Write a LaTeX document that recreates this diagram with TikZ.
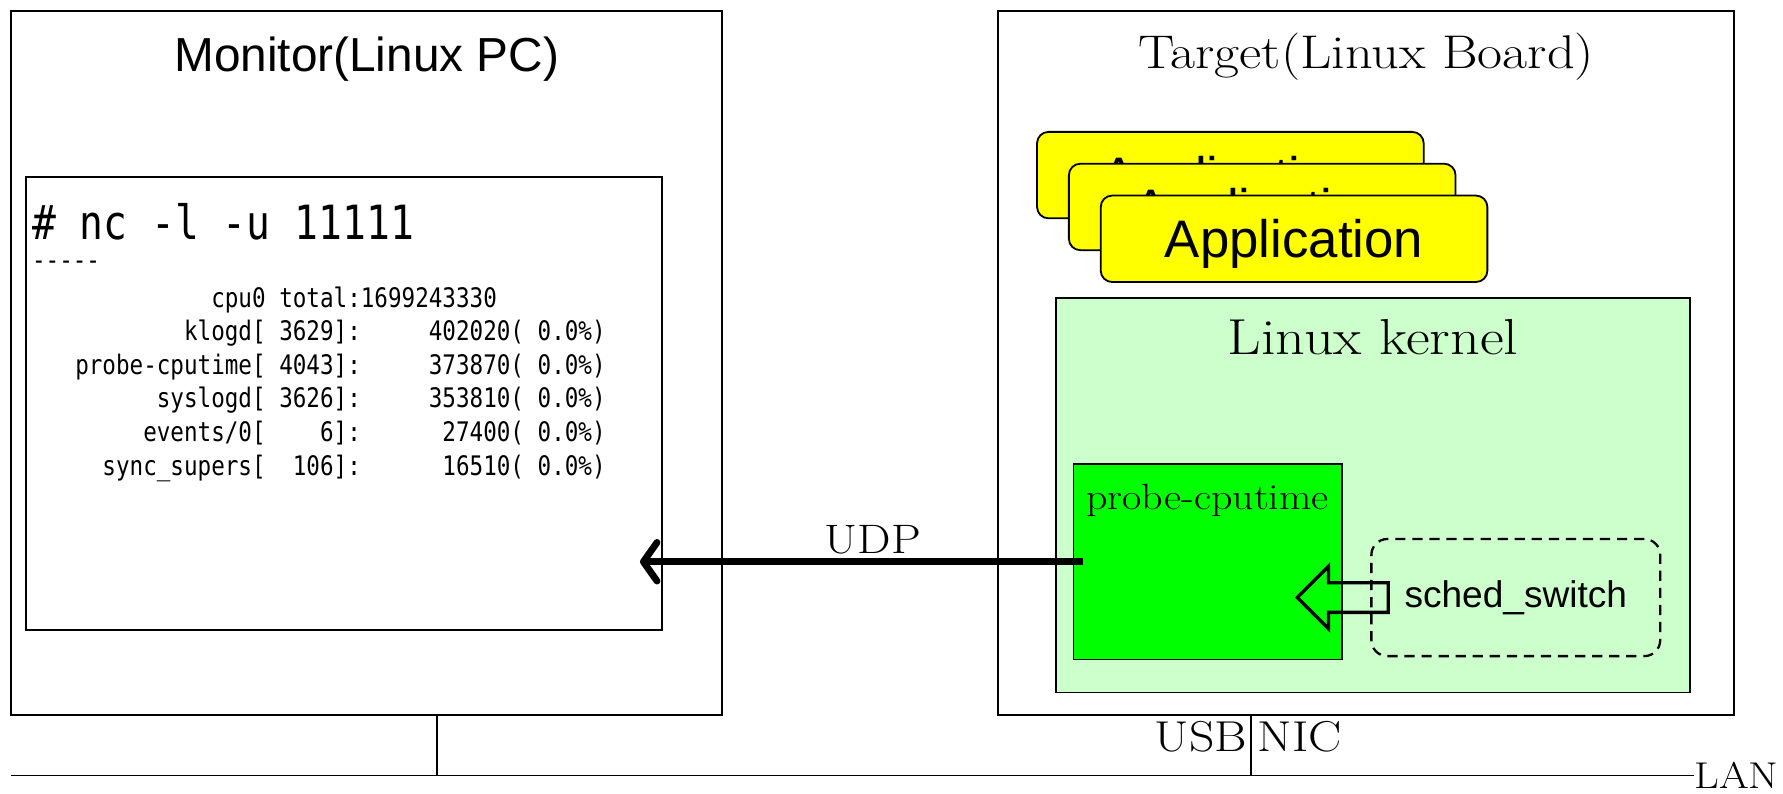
\documentclass[tikz,border=0pt]{standalone}
\usepackage{fontspec}
\newfontfamily\arialfont{Liberation Sans}
\newfontfamily\gothicfont[FakeStretch=0.84, Ligatures=TeXOff]{DejaVu Sans Mono}
\newfontfamily\centuryfont[FakeStretch=1.15]{Latin Modern Roman}
\usepackage{tikz}
\usetikzlibrary{arrows.meta}
\usetikzlibrary{positioning}
\usetikzlibrary{shapes.arrows}
\definecolor{appyellow}{HTML}{FFFF00}
\definecolor{kernelgreen}{HTML}{CCFFCC}
\definecolor{probegreen}{HTML}{00FF00}
\tikzstyle{host} = [draw, line width=1.6pt, inner sep=0pt]
\tikzstyle{app} = [host, fill=appyellow, rounded corners=10pt, minimum width=340pt, minimum height=76pt, text depth=0pt, font=\arialfont\fontsize{46.4}{50}\selectfont]
\tikzstyle{serif} = [inner sep=0pt, font=\centuryfont\fontsize{41.6}{48}\selectfont]
\tikzstyle{term} = [anchor=base west, inner sep=0pt, font=\gothicfont\fontsize{23.65}{29.6}\selectfont]
\tikzstyle{link} = [line width=1.6pt]
\tikzstyle{udp} = [line width=6pt, -{Straight Barb[length=12pt,width=34pt,round]}]
\tikzstyle{hook} = [draw, single arrow, shape border rotate=180, line width=3pt, minimum height=80pt, inner xsep=0pt, inner ysep=11.5pt, single arrow head extend=14.5pt, single arrow head indent=0pt]

\begin{document}
\begin{tikzpicture}[x=1pt, y=-1pt]
\useasboundingbox (0,0) rectangle (1568,698);
\node[host, minimum width=625pt, minimum height=619pt] (monitor) at (322.5,319.5) {};
\node[anchor=base, font=\arialfont\fontsize{42}{48}\selectfont] (montitle) at (322.5,63) {Monitor(Linux PC)};
\node[host, minimum width=559pt, minimum height=398pt] (term) at (302.5,355) {};
\node[term, font=\gothicfont\fontsize{41.5}{48}\selectfont] (cmd) at (28,211) {\#~nc~-l~-u~11111};
\node[term] (rule) at (28,237) {-----};
\node[term] (stats) at (66,270) {%
\begin{tabular}[t]{@{}r@{:}l@{}}
cpu0~total & 1699243330\\
klogd[~3629] & ~~~~~402020(~0.0\%)\\
probe-cputime[~4043] & ~~~~~373870(~0.0\%)\\
syslogd[~3626] & ~~~~~353810(~0.0\%)\\
events/0[~~~~6] & ~~~~~~27400(~0.0\%)\\
sync\_supers[~~106] & ~~~~~~16510(~0.0\%)
\end{tabular}};

\node[host, minimum width=647pt, minimum height=619pt] (target) at (1201.5,319.5) {};
\node[serif, anchor=base] (tgttitle) at (1201.5,60) {Target(Linux Board)};
\node[app] (app1) at (1082,154) {Application};
\node[app] (app2) at (1110,182) {Application};
\node[app] (app3) at (1138,210) {Application};
\node[host, fill=kernelgreen, minimum width=557pt, minimum height=347pt] (kernel) at (1207.5,435.5) {};
\node[serif, anchor=base, font=\centuryfont\fontsize{44.5}{50}\selectfont] (kerneltitle) at (1207.5,312) {Linux kernel};
\node[host, fill=probegreen, minimum width=236pt, minimum height=172pt] (probe) at (1062,494) {};
\node[serif, anchor=base, font=\centuryfont\fontsize{32.1}{38}\selectfont] (probetitle) at (1062,448) {probe-cputime};
\node[draw, dash pattern=on 9pt off 6pt, line width=2pt, rounded corners=14pt, minimum width=254pt, minimum height=103pt, font=\arialfont\fontsize{32.6}{38}\selectfont] (sched) at (1333,525.5) {sched\_switch};
\node[hook] (hook) at ([xshift=6.5pt]probe.east |- sched.center) {};
\draw[udp] ([xshift=9pt]probe.west) -- ([xshift=-20pt]term.east |- probe.west) node[midway, above, xshift=10pt, font=\centuryfont\fontsize{36.2}{40}\selectfont] {UDP};

\coordinate (lanstart) at (10,682);
\node[serif, anchor=west, font=\centuryfont\fontsize{32.8}{38}\selectfont] (lan) at (1490,682) {LAN};
\draw[link] (lanstart) -- (lan.west);
\coordinate (pcport) at (384,682);
\draw[link] (pcport |- monitor.south) -- (pcport);
\coordinate (boardport) at (1100,682);
\draw[link] (boardport |- target.south) -- (boardport);
\node[serif, anchor=base east, font=\centuryfont\fontsize{38}{44}\selectfont] (usb) at (1097,661) {USB};
\node[serif, anchor=base west, font=\centuryfont\fontsize{38}{44}\selectfont] (nic) at (1106,661) {NIC};
\end{tikzpicture}
\end{document}
